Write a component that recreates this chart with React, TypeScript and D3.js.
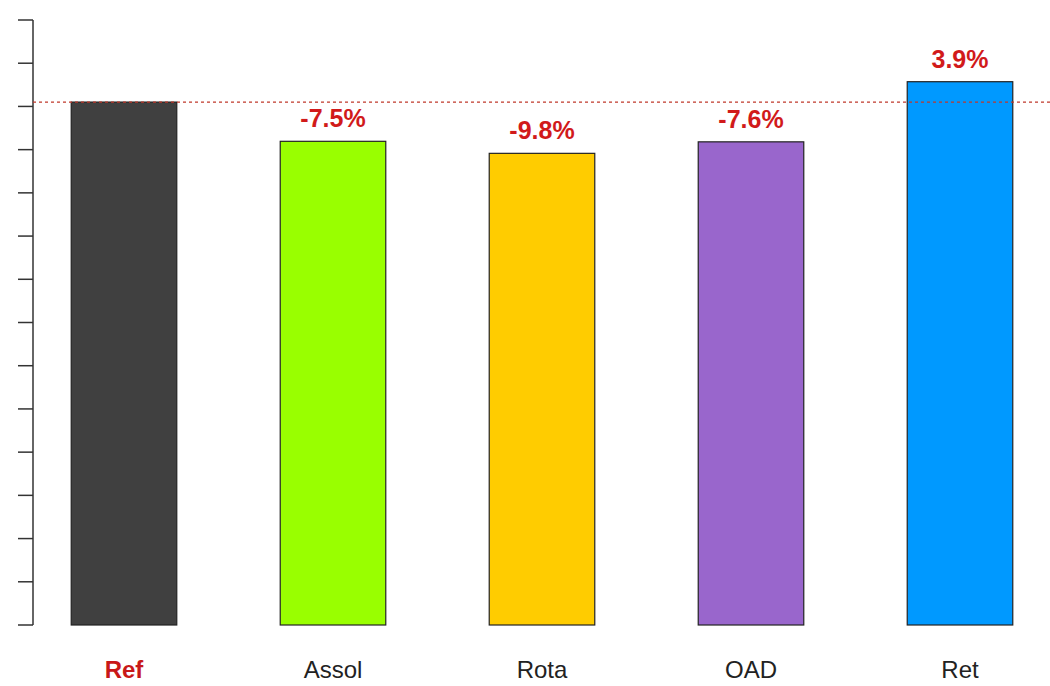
import React from "react";
import * as d3 from "d3";

const categories = ["Ref", "Assol", "Rota", "OAD", "Ret"];
const values = [100, 92.5, 90.2, 92.4, 103.9];
const changeLabels = ["", "-7.5%", "-9.8%", "-7.6%", "3.9%"];
const colors = ["#404040", "#99ff00", "#ffcc00", "#9966cc", "#0099ff"];
const yMax = 115.7;
const tickIntervals = 14;

export default function App() {
  const W = 1050, H = 686;
  const y = d3.scaleLinear().domain([0, yMax]).range([625, 20]);
  const x = d3.scalePoint<string>().domain(categories).range([19.5, 1064.5]).padding(0.5);
  const step = x.step();
  const bw = step * 0.505;
  const ticks = d3.range(tickIntervals + 1).map((i) => (i * yMax) / tickIntervals);
  const font = "Liberation Sans, Arial, sans-serif";
  return (
    <svg width={W} height={H} style={{ position: "absolute", left: 0, top: 0, background: "#fff" }}>
      <line x1={33} x2={33} y1={y(0)} y2={y(yMax)} stroke="#333" strokeWidth={1.5} />
      {ticks.map((t, i) => (
        <line key={i} x1={18} x2={33} y1={y(t)} y2={y(t)} stroke="#333" strokeWidth={1.5} />
      ))}
      {categories.map((c, i) => {
        const cx = x(c)!;
        return (
          <g key={c}>
            <rect x={cx - bw / 2} y={y(values[i])} width={bw} height={y(0) - y(values[i])} fill={colors[i]} stroke="#222" strokeWidth={1.2} />
            {changeLabels[i] && (
              <text x={cx} y={y(values[i]) - 14} textAnchor="middle" fontFamily={font} fontWeight="bold" fontSize={25} fill="#d11a1a">
                {changeLabels[i]}
              </text>
            )}
            <text x={cx} y={678} textAnchor="middle" fontFamily={font} fontSize={24} fontWeight={i === 0 ? "bold" : "normal"} fill={i === 0 ? "#c81818" : "#222"}>
              {c}
            </text>
          </g>
        );
      })}
      <line x1={33} x2={W} y1={y(values[0])} y2={y(values[0])} stroke="#c0392b" strokeWidth={1.3} strokeDasharray="3,3" />
    </svg>
  );
}
